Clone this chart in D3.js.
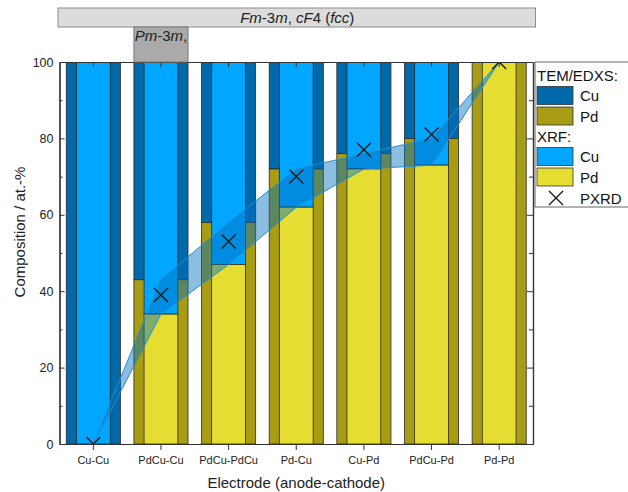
<!DOCTYPE html>
<html><head><meta charset="utf-8">
<script src="https://cdn.jsdelivr.net/npm/d3@7/dist/d3.min.js"></script>
<style>
body{margin:0;background:#fff;}
svg{display:block;font-family:"Liberation Sans",Arial,sans-serif;}
</style></head>
<body><svg id="c" width="628" height="492"></svg>
<script>
const categories = ["Cu-Cu","PdCu-Cu","PdCu-PdCu","Pd-Cu","Cu-Pd","PdCu-Pd","Pd-Pd"];
const edxsPd = [0,43,58,72,76,80,100];
const xrfPd  = [0,34,47,62,72,73,100];
const pxrd   = [0,39,53,70,77,81,100];
const yMajor = [0,20,40,60,80,100];
const yMinor = [10,30,50,70,90];
const legendItems = [
  {type:"head", label:"TEM/EDXS:"},
  {type:"box", key:"edxsCu", label:"Cu"},
  {type:"box", key:"edxsPd", label:"Pd"},
  {type:"head", label:"XRF:"},
  {type:"box", key:"xrfCu", label:"Cu"},
  {type:"box", key:"xrfPd", label:"Pd"},
  {type:"mark", label:"PXRD"}
];
const colors = {edxsCu:"#0069A9", edxsPd:"#A89C14", xrfCu:"#00A6FF", xrfPd:"#E6DD32"};

const L=59.5, R=533, T=62, B=444;
const svg = d3.select("#c");
const x = d3.scaleBand().domain(categories).range([L,R]).padding(0);
const y = d3.scaleLinear().domain([0,100]).range([B,T]);
const step = x.bandwidth();
const cx = c => x(c) + step/2;

svg.append("defs").append("clipPath").attr("id","clip")
  .append("rect").attr("x",L).attr("y",T).attr("width",R-L).attr("height",B-T);

const plot = svg.append("g").attr("clip-path","url(#clip)");

const wE = step*0.8, wX = step*0.5;
categories.forEach((c,i)=>{
  const g = plot.append("g");
  g.append("rect").attr("x",cx(c)-wE/2).attr("width",wE)
    .attr("y",y(100)).attr("height",y(edxsPd[i])-y(100))
    .attr("fill",colors.edxsCu).attr("stroke","#2a2a2a").attr("stroke-width",0.8);
  g.append("rect").attr("x",cx(c)-wE/2).attr("width",wE)
    .attr("y",y(edxsPd[i])).attr("height",y(0)-y(edxsPd[i]))
    .attr("fill",colors.edxsPd).attr("stroke","#2a2a2a").attr("stroke-width",0.8);
});
categories.forEach((c,i)=>{
  const g = plot.append("g");
  g.append("rect").attr("x",cx(c)-wX/2).attr("width",wX)
    .attr("y",y(100)).attr("height",y(xrfPd[i])-y(100))
    .attr("fill",colors.xrfCu).attr("stroke","#2a2a2a").attr("stroke-width",0.8);
  g.append("rect").attr("x",cx(c)-wX/2).attr("width",wX)
    .attr("y",y(xrfPd[i])).attr("height",y(0)-y(xrfPd[i]))
    .attr("fill",colors.xrfPd).attr("stroke","#2a2a2a").attr("stroke-width",0.8);
});

const bandData = categories.map((c,i)=>({c, lo:xrfPd[i], hi:edxsPd[i]}));
const area = d3.area().x(d=>cx(d.c)).y0(d=>y(d.lo)).y1(d=>y(d.hi));
plot.append("path").datum(bandData).attr("d",area)
  .attr("fill","rgb(0,110,188)").attr("fill-opacity",0.45)
  .attr("stroke","#1F8ED6").attr("stroke-width",1);

const ms = 7;
categories.forEach((c,i)=>{
  const px=cx(c), py=y(pxrd[i]);
  plot.append("path").attr("d",`M${px-ms},${py-ms}L${px+ms},${py+ms}M${px-ms},${py+ms}L${px+ms},${py-ms}`)
    .attr("stroke","#1a1a1a").attr("stroke-width",1.4).attr("fill","none");
});

const axCol="#333";
const gLeft = svg.append("g").attr("transform",`translate(${L},0)`)
  .call(d3.axisLeft(y).tickValues(yMajor).tickSizeInner(-5).tickSizeOuter(0).tickPadding(6));
const gLeftMinor = svg.append("g").attr("transform",`translate(${L},0)`)
  .call(d3.axisLeft(y).tickValues(yMinor).tickSizeInner(-3).tickSizeOuter(0).tickFormat(""));
const gRight = svg.append("g").attr("transform",`translate(${R},0)`)
  .call(d3.axisRight(y).tickValues(yMajor).tickSizeInner(-6).tickSizeOuter(0).tickFormat(""));
const gRightMinor = svg.append("g").attr("transform",`translate(${R},0)`)
  .call(d3.axisRight(y).tickValues(yMinor).tickSizeInner(-4).tickSizeOuter(0).tickFormat(""));
const gBottom = svg.append("g").attr("transform",`translate(0,${B})`)
  .call(d3.axisBottom(x).tickSizeInner(6).tickSizeOuter(0).tickPadding(6));
const gTop = svg.append("g").attr("transform",`translate(0,${T})`)
  .call(d3.axisTop(x).tickSizeInner(-5).tickSizeOuter(0).tickFormat(""));
[gLeft,gLeftMinor,gRight,gRightMinor,gBottom,gTop].forEach(g=>{
  g.selectAll("path.domain").attr("stroke",axCol).attr("stroke-width",1.2);
  g.selectAll("line").attr("stroke",axCol).attr("stroke-width",1);
});
gLeft.selectAll("text").attr("font-size",12.5).attr("fill","#222").attr("font-family","Liberation Sans, Arial, sans-serif");
gBottom.selectAll("text").attr("font-size",11).attr("fill","#222").attr("font-family","Liberation Sans, Arial, sans-serif");

svg.append("text").attr("x",(L+R)/2).attr("y",488).attr("text-anchor","middle")
  .attr("font-size",15).attr("fill","#222").text("Electrode (anode-cathode)");
svg.append("text").attr("transform",`translate(25,${232}) rotate(-90)`).attr("text-anchor","middle")
  .attr("font-size",15).attr("fill","#222").text("Composition / at.-%");

svg.append("rect").attr("x",L-1.5).attr("y",8).attr("width",R-L+4).attr("height",19)
  .attr("fill","#DCDCDC").attr("stroke","#8c8c8c").attr("stroke-width",1);
const t1 = svg.append("text").attr("x",(L+R)/2+1).attr("y",22.5).attr("text-anchor","middle")
  .attr("font-size",15).attr("fill","#222");
t1.append("tspan").attr("font-style","italic").text("Fm");
t1.append("tspan").text("-3");
t1.append("tspan").attr("font-style","italic").text("m");
t1.append("tspan").text(", ");
t1.append("tspan").attr("font-style","italic").text("cF");
t1.append("tspan").text("4 (");
t1.append("tspan").attr("font-style","italic").text("fcc");
t1.append("tspan").text(")");

const pc = cx("PdCu-Cu");
svg.append("rect").attr("x",pc-wE/2).attr("y",27).attr("width",wE).attr("height",T-27)
  .attr("fill","#AAAAAA").attr("stroke","#7a7a7a").attr("stroke-width",1);
const t2 = svg.append("text").attr("x",pc).attr("y",41).attr("text-anchor","middle")
  .attr("font-size",15).attr("fill","#222");
t2.append("tspan").attr("font-style","italic").text("Pm");
t2.append("tspan").text("-3");
t2.append("tspan").attr("font-style","italic").text("m");
t2.append("tspan").text(",");

const lg = svg.append("g");
lg.append("rect").attr("x",535).attr("y",T).attr("width",120).attr("height",145)
  .attr("fill","#fff").attr("stroke","#666").attr("stroke-width",1);
let ly = T+3;
const rowH = [20,21,20,20,21,20,22];
legendItems.forEach((it,i)=>{
  const h = rowH[i];
  const mid = ly + h/2;
  if(it.type==="head"){
    lg.append("text").attr("x",537).attr("y",mid+5.5).attr("font-size",15).attr("fill","#111").text(it.label);
  } else {
    if(it.type==="box"){
      lg.append("rect").attr("x",537).attr("y",mid-9).attr("width",36).attr("height",18)
        .attr("fill",colors[it.key]).attr("stroke","#333").attr("stroke-width",0.8);
    } else {
      const mx=556, my=mid;
      lg.append("path").attr("d",`M${mx-ms},${my-ms}L${mx+ms},${my+ms}M${mx-ms},${my+ms}L${mx+ms},${my-ms}`)
        .attr("stroke","#1a1a1a").attr("stroke-width",1.4);
    }
    lg.append("text").attr("x",580).attr("y",mid+5.5).attr("font-size",15).attr("fill","#111").text(it.label);
  }
  ly += h;
});
</script></body></html>
